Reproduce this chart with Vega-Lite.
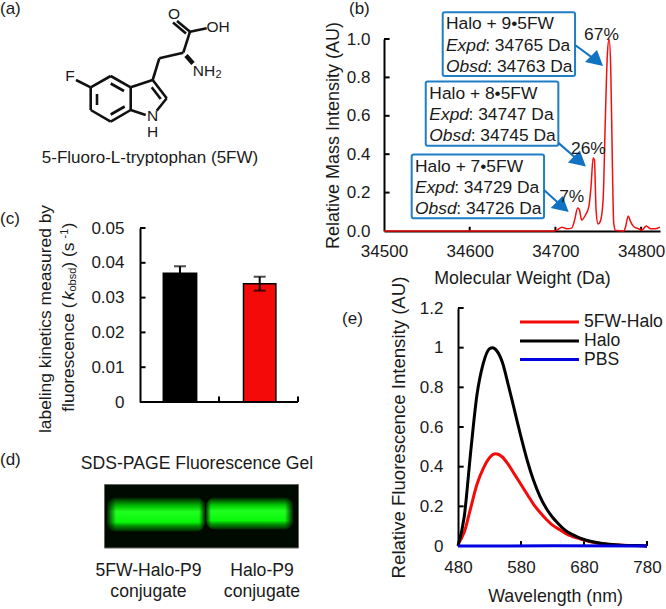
{
"$schema":"https://vega.github.io/schema/vega-lite/v6.json",
"padding":0,"spacing":-60,
"background":"white",
"config":{"view":{"stroke":null},"font":"Liberation Sans","text":{"font":"Liberation Sans","fontSize":17.6,"color":"#1a1a1a"},
"axis":{"grid":false,"domainColor":"black","ticks":false,"tickSize":0,"domainWidth":2,"labelFont":"Liberation Sans","labelFontSize":17,"labelColor":"#1a1a1a","titleFont":"Liberation Sans","titleFontSize":17.8,"titleFontWeight":"normal","titleColor":"#1a1a1a","labelPadding":14,"labelFlush":false,"labelOverlap":false,"tickCount":20}},
"hconcat":[
{"bounds":"flush","spacing":0,"vconcat":[
 {"width":384,"height":228,
  "encoding":{"x":{"field":"x","type":"quantitative","scale":{"domain":[0,384],"nice":false,"zero":false},"axis":null},
              "y":{"field":"y","type":"quantitative","scale":{"domain":[228,0],"nice":false,"zero":false},"axis":null}},
  "layer":[
   {"data":{"values":[
    {"x":90.7,"y":87.3,"x2":110.7,"y2":76},{"x":110.7,"y":76,"x2":130.7,"y2":87.3},{"x":130.7,"y":87.3,"x2":130.7,"y2":110},
    {"x":130.7,"y":110,"x2":110.7,"y2":121.7},{"x":110.7,"y":121.7,"x2":90.7,"y2":110},{"x":90.7,"y":110,"x2":90.7,"y2":87.3},
    {"x":76,"y":80,"x2":90.7,"y2":87.3},
    {"x":110.7,"y":83.5,"x2":124,"y2":91},{"x":97,"y":94,"x2":97,"y2":105},{"x":110.7,"y":114.5,"x2":124.7,"y2":106.5},
    {"x":130.7,"y":87.3,"x2":152.7,"y2":80},{"x":152.7,"y":80,"x2":166.7,"y2":98.3},{"x":166.7,"y":98.3,"x2":156.7,"y2":110.7},
    {"x":145.7,"y":115,"x2":130.7,"y2":110},{"x":151.7,"y":87.3,"x2":160.7,"y2":99},
    {"x":152.7,"y":80,"x2":159.3,"y2":58.3},{"x":159.3,"y":58.3,"x2":183.3,"y2":52.7},{"x":183.3,"y":52.7,"x2":190,"y2":31.7},
    {"x":190,"y":31.7,"x2":206.7,"y2":28.3},{"x":190,"y":31.7,"x2":177,"y2":21},{"x":186,"y":33.5,"x2":173,"y2":22.5}
   ]},"mark":{"type":"rule","strokeWidth":2.6,"color":"#111"},"encoding":{"x2":{"field":"x2"},"y2":{"field":"y2"}}},
   {"data":{"values":[{"x":186,"y":55.5,"x2":193,"y2":63.5}]},"mark":{"type":"rule","strokeWidth":4.5,"color":"#111"},"encoding":{"x2":{"field":"x2"},"y2":{"field":"y2"}}},
   {"data":{"values":[
    {"x":70,"y":76,"t":"F"},{"x":174,"y":14,"t":"O"},{"x":218,"y":26.5,"t":"OH"},{"x":152.5,"y":116,"t":"N"},{"x":152.5,"y":131.5,"t":"H"},{"x":204,"y":71,"t":"NH"}
   ]},"mark":{"type":"text","align":"center","baseline":"middle","fontSize":15.5},"encoding":{"text":{"field":"t"}}},
   {"data":{"values":[{"x":150,"y":158,"t":"5-Fluoro-L-tryptophan (5FW)"}]},"mark":{"type":"text","align":"center","baseline":"middle","fontSize":17},"encoding":{"text":{"field":"t"}}},
   {"data":{"values":[{"x":218.5,"y":75,"t":"2"}]},"mark":{"type":"text","align":"center","baseline":"middle","fontSize":11},"encoding":{"text":{"field":"t"}}},
   {"data":{"values":[{"x":0,"y":9,"t":"(a)"}]},"mark":{"type":"text","align":"left","baseline":"middle","fontSize":17},"encoding":{"text":{"field":"t"}}}
  ]},
 {"width":384,"height":174,
   "data":{"values":[
    {"protein":"Halo","x0":0.295,"x1":0.717,"xc":0.506,"k":0.037,"lo":0.035,"hi":0.039},
    {"protein":"5FW-Halo","x0":1.31,"x1":1.72,"xc":1.515,"k":0.034,"lo":0.032,"hi":0.036}
   ]},
   "layer":[
    {"mark":{"type":"rect","stroke":"black","strokeWidth":1.5},
     "encoding":{"x":{"field":"x0","type":"quantitative","scale":{"domain":[-1.772,3.0886],"nice":false,"zero":false},"axis":{"values":[0.5,1.5],"labelExpr":"datum.value==0.5?'Halo':'5FW-Halo'","domain":false,"title":null,"labelPadding":9}},
      "x2":{"field":"x1"},
      "y":{"field":"k","type":"quantitative","scale":{"domain":[0,0.05],"nice":false},"axis":{"values":[0,0.01,0.02,0.03,0.04,0.05],"format":".2~f","title":null,"labelPadding":16,"offset":-140}},
      "y2":{"datum":0},
      "color":{"field":"protein","type":"nominal","scale":{"domain":["Halo","5FW-Halo","PBS"],"range":["#000000","#f50a0a","#0000e0"]},"legend":null}}},
    {"data":{"values":[{"a":0,"b":2,"z":0},{"a":0,"b":0.07,"z":0.01},{"a":0,"b":0.07,"z":0.02},{"a":0,"b":0.07,"z":0.03},{"a":0,"b":0.07,"z":0.04},{"a":0,"b":0.07,"z":0.05}]},"mark":{"type":"rule","strokeWidth":2,"color":"black"},
     "encoding":{"x":{"field":"a","type":"quantitative","axis":null},"x2":{"field":"b"},"y":{"field":"z","type":"quantitative"}}},
    {"data":{"values":[{"a":1,"z":0,"z2":0.0016},{"a":2,"z":0,"z2":0.0016}]},"mark":{"type":"rule","strokeWidth":2,"color":"black"},
     "encoding":{"x":{"field":"a","type":"quantitative","axis":null},"y":{"field":"z","type":"quantitative"},"y2":{"field":"z2"}}},
    {"mark":{"type":"rule","strokeWidth":2,"color":"black"},
     "encoding":{"x":{"field":"xc","type":"quantitative","axis":null},
      "y":{"field":"lo","type":"quantitative"},"y2":{"field":"hi"}}},
    {"mark":{"type":"tick","orient":"horizontal","size":12,"thickness":2,"color":"black"},
     "encoding":{"x":{"field":"xc","type":"quantitative","axis":null},"y":{"field":"hi","type":"quantitative"}}},
    {"mark":{"type":"tick","orient":"horizontal","size":12,"thickness":2,"color":"black"},
     "encoding":{"x":{"field":"xc","type":"quantitative","axis":null},"y":{"field":"lo","type":"quantitative"}}},
    {"data":{"values":[{"x":-1.772,"y":0.0526,"t":"(c)"}]},"mark":{"type":"text","align":"left","baseline":"middle","fontSize":17},"encoding":{"x":{"field":"x","type":"quantitative","axis":null},"y":{"field":"y","type":"quantitative"},"text":{"field":"t"}}},
    {"data":{"values":[{"x":-1.195,"y":0.02385,"t":"labeling kinetics measured by"}]},"mark":{"type":"text","angle":270,"align":"center","baseline":"middle","fontSize":17.4},"encoding":{"x":{"field":"x","type":"quantitative","axis":null},"y":{"field":"y","type":"quantitative"},"text":{"field":"t"}}},
    {"data":{"values":[{"x":-0.9,"y":-0.00279,"t":"fluorescence  ("},{"x":-0.9,"y":0.03859,"t":")  (s"},{"x":-0.9,"y":0.04983,"t":")"}]},"mark":{"type":"text","angle":270,"align":"left","baseline":"middle","fontSize":17.4},"encoding":{"x":{"field":"x","type":"quantitative","axis":null},"y":{"field":"y","type":"quantitative"},"text":{"field":"t"}}},
    {"data":{"values":[{"x":-0.9,"y":0.02931,"t":"k"}]},"mark":{"type":"text","angle":270,"align":"left","baseline":"middle","fontStyle":"italic","fontSize":17.4},"encoding":{"x":{"field":"x","type":"quantitative","axis":null},"y":{"field":"y","type":"quantitative"},"text":{"field":"t"}}},
    {"data":{"values":[{"x":-0.85,"y":0.03175,"t":"obsd"},{"x":-0.95,"y":0.04701,"t":"-1"}]},"mark":{"type":"text","angle":270,"align":"left","baseline":"middle","fontSize":11},"encoding":{"x":{"field":"x","type":"quantitative","axis":null},"y":{"field":"y","type":"quantitative"},"text":{"field":"t"}}}
   ]},
 {"width":384,"height":207,
  "encoding":{"x":{"field":"x","type":"quantitative","scale":{"domain":[0,384],"nice":false,"zero":false},"axis":null},
              "y":{"field":"y","type":"quantitative","scale":{"domain":[609,402],"nice":false,"zero":false},"axis":null}},
  "layer":[
   {"data":{"values":[{"x":104.5,"x2":298.5,"y":484.5,"y2":548}]},"mark":{"type":"rect","fill":"#010a01","stroke":"#666","strokeWidth":1},"encoding":{"x2":{"field":"x2"},"y2":{"field":"y2"}}},
   {"data":{"values":[{"x":107,"x2":205,"y":497,"y2":532}]},
    "mark":{"type":"rect","cornerRadius":10,"fill":{"gradient":"linear","x1":0,"y1":0,"x2":0,"y2":1,"stops":[{"offset":0,"color":"rgba(0,255,0,0)"},{"offset":0.25,"color":"rgba(0,230,0,0.8)"},{"offset":0.42,"color":"#20ff20"},{"offset":0.72,"color":"#08f808"},{"offset":0.85,"color":"rgba(0,190,0,0.65)"},{"offset":1,"color":"rgba(0,255,0,0)"}]}},"encoding":{"x2":{"field":"x2"},"y2":{"field":"y2"}}},
   {"data":{"values":[{"x":206,"x2":293,"y":497,"y2":530}]},
    "mark":{"type":"rect","cornerRadius":10,"fill":{"gradient":"linear","x1":0,"y1":0,"x2":0,"y2":1,"stops":[{"offset":0,"color":"rgba(0,255,0,0)"},{"offset":0.25,"color":"rgba(0,235,0,0.85)"},{"offset":0.42,"color":"#20ff20"},{"offset":0.72,"color":"#08f808"},{"offset":0.85,"color":"rgba(0,190,0,0.65)"},{"offset":1,"color":"rgba(0,255,0,0)"}]}},"encoding":{"x2":{"field":"x2"},"y2":{"field":"y2"}}},
   {"data":{"values":[{"x":106,"x2":116,"y":495,"y2":534},{"x":205,"x2":211,"y":495,"y2":534}]},
    "mark":{"type":"rect","fill":{"gradient":"linear","x1":0,"y1":0,"x2":1,"y2":0,"stops":[{"offset":0,"color":"rgba(1,10,1,1)"},{"offset":1,"color":"rgba(1,10,1,0)"}]}},"encoding":{"x2":{"field":"x2"},"y2":{"field":"y2"}}},
   {"data":{"values":[{"x":199,"x2":206,"y":495,"y2":534},{"x":285,"x2":294,"y":495,"y2":534}]},
    "mark":{"type":"rect","fill":{"gradient":"linear","x1":0,"y1":0,"x2":1,"y2":0,"stops":[{"offset":0,"color":"rgba(1,10,1,0)"},{"offset":1,"color":"rgba(1,10,1,1)"}]}},"encoding":{"x2":{"field":"x2"},"y2":{"field":"y2"}}},
   {"data":{"values":[
     {"x":197,"y":464,"t":"SDS-PAGE Fluorescence Gel"},{"x":148.5,"y":571,"t":"5FW-Halo-P9"},{"x":148.5,"y":592,"t":"conjugate"},{"x":262,"y":571,"t":"Halo-P9"},{"x":262,"y":592,"t":"conjugate"}
    ]},"mark":{"type":"text","align":"center","baseline":"middle"},"encoding":{"text":{"field":"t"}}},
   {"data":{"values":[{"x":0,"y":460,"t":"(d)"}]},"mark":{"type":"text","align":"left","baseline":"middle","fontSize":17},"encoding":{"text":{"field":"t"}}}
  ]}
]},
{"bounds":"flush","spacing":0,"vconcat":[
 {"width":282,"height":39,"data":{"values":[{"x":349,"y":9,"t":"(b)"}]},
  "mark":{"type":"text","align":"left","baseline":"middle","fontSize":17},
  "encoding":{"x":{"field":"x","type":"quantitative","scale":{"domain":[384,666],"nice":false,"zero":false},"axis":null},
   "y":{"field":"y","type":"quantitative","scale":{"domain":[39,0],"nice":false,"zero":false},"axis":null},"text":{"field":"t"}}},
 {"width":276,"height":192,
  "layer":[
   {"data":{"values":[{"x":34500,"x2":34506.5,"y":0.2},{"x":34500,"x2":34506.5,"y":0.4},{"x":34500,"x2":34506.5,"y":0.6},{"x":34500,"x2":34506.5,"y":0.8},{"x":34500,"x2":34506.5,"y":1}]},
    "mark":{"type":"rule","strokeWidth":2,"color":"black"},
    "encoding":{"x":{"field":"x","type":"quantitative"},"x2":{"field":"x2"},"y":{"field":"y","type":"quantitative"}}},
   {"data":{"values":[{"x":34600,"y":0,"y2":0.022},{"x":34700,"y":0,"y2":0.022},{"x":34800,"y":0,"y2":0.022}]},
    "mark":{"type":"rule","strokeWidth":2,"color":"black"},
    "encoding":{"x":{"field":"x","type":"quantitative"},"y":{"field":"y","type":"quantitative"},"y2":{"field":"y2"}}},
   {"data":{"values":[
    {"mw":34500,"i":0},{"mw":34600,"i":0},{"mw":34698,"i":0},{"mw":34702,"i":0.005},{"mw":34707.6,"i":0.02},{"mw":34713,"i":0.012},{"mw":34719,"i":0.015},{"mw":34722,"i":0.05},{"mw":34726,"i":0.12},{"mw":34728,"i":0.11},{"mw":34730.6,"i":0.057},{"mw":34735,"i":0.083},{"mw":34739,"i":0.127},{"mw":34741.5,"i":0.23},{"mw":34744,"i":0.38},{"mw":34745.5,"i":0.37},{"mw":34747.4,"i":0.11},{"mw":34749.7,"i":0.036},{"mw":34752.4,"i":0.05},{"mw":34755.6,"i":0.16},{"mw":34758.3,"i":0.595},{"mw":34760.6,"i":0.92},{"mw":34762.6,"i":1.0},{"mw":34764.5,"i":0.855},{"mw":34766.5,"i":0.335},{"mw":34768,"i":0.04},{"mw":34770.4,"i":0.002},{"mw":34780,"i":0},{"mw":34781.7,"i":0.02},{"mw":34785,"i":0.078},{"mw":34787.5,"i":0.05},{"mw":34791.5,"i":0.022},{"mw":34797,"i":0.012},{"mw":34801,"i":0.005},{"mw":34806,"i":0.026},{"mw":34811,"i":0.012},{"mw":34817,"i":0.012},{"mw":34822,"i":0.02}
    ]},
    "mark":{"type":"line","color":"#f01010","strokeWidth":1.5,"interpolate":"monotone"},
    "encoding":{"x":{"field":"mw","type":"quantitative","scale":{"domain":[34500,34822],"nice":false,"zero":false},"axis":{"values":[34500,34600,34700,34800],"format":"d","title":"Molecular Weight (Da)","titlePadding":10,"labelPadding":12}},
     "y":{"field":"i","type":"quantitative","scale":{"domain":[0,1],"nice":false},"axis":{"values":[0,0.2,0.4,0.6,0.8,1],"format":".1f","title":"Relative Mass Intensity (AU)","titlePadding":4,"titleFontSize":18}}}},
   {"data":{"values":[{"x":34568.5,"x2":34722.9,"y":1.139,"y2":0.807},{"x":34548.7,"x2":34703.4,"y":0.778,"y2":0.444},{"x":34532.3,"x2":34686.7,"y":0.399,"y2":0.066}]},
    "mark":{"type":"rect","fill":"white","stroke":"#1f7fc4","strokeWidth":2,"cornerRadius":2},
    "encoding":{"x":{"field":"x","type":"quantitative"},"x2":{"field":"x2"},"y":{"field":"y","type":"quantitative"},"y2":{"field":"y2"}}},
   {"data":{"values":[{"x":34722.9,"y":0.969,"x2":34748.5,"y2":0.885},{"x":34703.4,"y":0.459,"x2":34728.5,"y2":0.362},{"x":34686.7,"y":0.213,"x2":34708.5,"y2":0.125}]},
    "mark":{"type":"rule","stroke":"#0f72c2","strokeWidth":2},
    "encoding":{"x":{"field":"x","type":"quantitative"},"x2":{"field":"x2"},"y":{"field":"y","type":"quantitative"},"y2":{"field":"y2"}}},
   {"data":{"values":[{"x":34748.5,"y":0.885},{"x":34728.5,"y":0.362},{"x":34708.5,"y":0.125}]},
    "mark":{"type":"point","shape":"M0.5,0.42L-1,0.08L0,-0.92Z","filled":true,"color":"#0f72c2","size":576,"opacity":1},
    "encoding":{"x":{"field":"x","type":"quantitative"},"y":{"field":"y","type":"quantitative"}}},
   {"data":{"values":[
     {"x":34572.3,"y":1.076,"t":"Halo + 9•5FW"},{"x":34618,"y":0.964,"t":": 34765 Da"},{"x":34620.5,"y":0.856,"t":": 34763 Da"},
     {"x":34552.9,"y":0.712,"t":"Halo + 8•5FW"},{"x":34598.6,"y":0.604,"t":": 34747 Da"},{"x":34601.1,"y":0.495,"t":": 34745 Da"},
     {"x":34536.2,"y":0.335,"t":"Halo + 7•5FW"},{"x":34581.9,"y":0.222,"t":": 34729 Da"},{"x":34584.4,"y":0.113,"t":": 34726 Da"}
    ]},"mark":{"type":"text","align":"left","baseline":"middle","fontSize":17.4},
    "encoding":{"x":{"field":"x","type":"quantitative"},"y":{"field":"y","type":"quantitative"},"text":{"field":"t"}}},
   {"data":{"values":[
     {"x":34572.3,"y":0.964,"t":"Expd"},{"x":34572.3,"y":0.856,"t":"Obsd"},
     {"x":34552.9,"y":0.604,"t":"Expd"},{"x":34552.9,"y":0.495,"t":"Obsd"},
     {"x":34536.2,"y":0.222,"t":"Expd"},{"x":34536.2,"y":0.113,"t":"Obsd"}
    ]},"mark":{"type":"text","align":"left","baseline":"middle","fontSize":17.4,"fontStyle":"italic"},
    "encoding":{"x":{"field":"x","type":"quantitative"},"y":{"field":"y","type":"quantitative"},"text":{"field":"t"}}},
   {"data":{"values":[{"x":34753.7,"y":1.02,"t":"67%"},{"x":34738.5,"y":0.427,"t":"26%"},{"x":34719,"y":0.178,"t":"7%"}]},
    "mark":{"type":"text","align":"center","baseline":"middle","fontSize":17.4},
    "encoding":{"x":{"field":"x","type":"quantitative"},"y":{"field":"y","type":"quantitative"},"text":{"field":"t"}}}
  ]},
 {"width":282,"height":77,"data":{"values":[{"t":""}]},"mark":{"type":"text"},"encoding":{"text":{"field":"t"}}},
 {"width":263,"height":238,
   "layer":[
    {"data":{"values":[{"a":480,"b":780,"z":0},{"a":480,"b":489,"z":0.2},{"a":480,"b":489,"z":0.4},{"a":480,"b":489,"z":0.6},{"a":480,"b":489,"z":0.8},{"a":480,"b":489,"z":1},{"a":480,"b":489,"z":1.2}]},"mark":{"type":"rule","strokeWidth":2,"color":"black"},
     "encoding":{"x":{"field":"a","type":"quantitative"},"x2":{"field":"b"},"y":{"field":"z","type":"quantitative"}}},
    {"data":{"values":[{"a":580,"z":0,"z2":0.025},{"a":680,"z":0,"z2":0.025},{"a":780,"z":0,"z2":0.025}]},"mark":{"type":"rule","strokeWidth":2,"color":"black"},
     "encoding":{"x":{"field":"a","type":"quantitative"},"y":{"field":"z","type":"quantitative"},"y2":{"field":"z2"}}},
    {"data":{"values":[
     {"nm":480,"v":0.01,"s":"5FW-Halo"},{"nm":490,"v":0.07,"s":"5FW-Halo"},{"nm":500,"v":0.19,"s":"5FW-Halo"},{"nm":510,"v":0.31,"s":"5FW-Halo"},{"nm":520,"v":0.39,"s":"5FW-Halo"},{"nm":530,"v":0.445,"s":"5FW-Halo"},{"nm":540,"v":0.465,"s":"5FW-Halo"},{"nm":550,"v":0.45,"s":"5FW-Halo"},{"nm":560,"v":0.41,"s":"5FW-Halo"},{"nm":570,"v":0.36,"s":"5FW-Halo"},{"nm":580,"v":0.31,"s":"5FW-Halo"},{"nm":590,"v":0.26,"s":"5FW-Halo"},{"nm":600,"v":0.21,"s":"5FW-Halo"},{"nm":610,"v":0.17,"s":"5FW-Halo"},{"nm":620,"v":0.135,"s":"5FW-Halo"},{"nm":630,"v":0.105,"s":"5FW-Halo"},{"nm":640,"v":0.085,"s":"5FW-Halo"},{"nm":650,"v":0.065,"s":"5FW-Halo"},{"nm":660,"v":0.05,"s":"5FW-Halo"},{"nm":670,"v":0.04,"s":"5FW-Halo"},{"nm":680,"v":0.03,"s":"5FW-Halo"},{"nm":700,"v":0.015,"s":"5FW-Halo"},{"nm":720,"v":0.007,"s":"5FW-Halo"},{"nm":740,"v":0.004,"s":"5FW-Halo"},{"nm":760,"v":0.002,"s":"5FW-Halo"},{"nm":780,"v":0,"s":"5FW-Halo"},
     {"nm":480,"v":0,"s":"Halo"},{"nm":490,"v":0.15,"s":"Halo"},{"nm":500,"v":0.47,"s":"Halo"},{"nm":510,"v":0.76,"s":"Halo"},{"nm":520,"v":0.92,"s":"Halo"},{"nm":530,"v":0.995,"s":"Halo"},{"nm":535,"v":1.0,"s":"Halo"},{"nm":540,"v":0.99,"s":"Halo"},{"nm":550,"v":0.93,"s":"Halo"},{"nm":560,"v":0.81,"s":"Halo"},{"nm":570,"v":0.68,"s":"Halo"},{"nm":580,"v":0.55,"s":"Halo"},{"nm":590,"v":0.43,"s":"Halo"},{"nm":600,"v":0.33,"s":"Halo"},{"nm":610,"v":0.25,"s":"Halo"},{"nm":620,"v":0.19,"s":"Halo"},{"nm":630,"v":0.145,"s":"Halo"},{"nm":640,"v":0.11,"s":"Halo"},{"nm":650,"v":0.08,"s":"Halo"},{"nm":660,"v":0.06,"s":"Halo"},{"nm":670,"v":0.045,"s":"Halo"},{"nm":680,"v":0.033,"s":"Halo"},{"nm":700,"v":0.018,"s":"Halo"},{"nm":720,"v":0.009,"s":"Halo"},{"nm":740,"v":0.004,"s":"Halo"},{"nm":760,"v":0.002,"s":"Halo"},{"nm":780,"v":0,"s":"Halo"},
     {"nm":480,"v":0,"s":"PBS"},{"nm":630,"v":0.001,"s":"PBS"},{"nm":780,"v":0,"s":"PBS"}
     ]},
     "mark":{"type":"line","strokeWidth":3,"interpolate":"monotone"},
     "encoding":{"x":{"field":"nm","type":"quantitative","scale":{"domain":[362.54,780],"nice":false,"zero":false},"axis":{"values":[480,580,680,780],"title":"Wavelength (nm)","domain":false,"titleX":171,"titleY":50,"titleBaseline":"middle","labelPadding":13}},
      "y":{"field":"v","type":"quantitative","scale":{"domain":[0,1.2],"nice":false},"axis":{"values":[0,0.2,0.4,0.6,0.8,1,1.2],"format":"~g","title":"Relative Fluorescence Intensity (AU)","titlePadding":11,"labelPadding":15,"offset":-74,"titleFontSize":18.6}},
      "color":{"field":"s","type":"nominal","scale":{"domain":["Halo","5FW-Halo","PBS"],"range":["#000000","#f50a0a","#0000e0"]},"legend":null}}},
    {"data":{"values":[{"nm":578.4,"nm2":672,"v":1.13,"s":"5FW-Halo"},{"nm":578.4,"nm2":672,"v":1.034,"s":"Halo"},{"nm":578.4,"nm2":672,"v":0.94,"s":"PBS"}]},
     "mark":{"type":"rule","strokeWidth":3},
     "encoding":{"x":{"field":"nm","type":"quantitative"},"x2":{"field":"nm2"},"y":{"field":"v","type":"quantitative"},"color":{"field":"s","type":"nominal","legend":null}}},
    {"data":{"values":[{"nm":680,"v":1.13,"s":"5FW-Halo"},{"nm":680,"v":1.034,"s":"Halo"},{"nm":680,"v":0.94,"s":"PBS"}]},
     "mark":{"type":"text","align":"left","baseline":"middle"},
     "encoding":{"x":{"field":"nm","type":"quantitative"},"y":{"field":"v","type":"quantitative"},"text":{"field":"s"}}},
    {"data":{"values":[{"nm":295.9,"v":1.1445,"s":"(e)"}]},
     "mark":{"type":"text","align":"left","baseline":"middle","fontSize":17},
     "encoding":{"x":{"field":"nm","type":"quantitative"},"y":{"field":"v","type":"quantitative"},"text":{"field":"s"}}}
   ]}
]}
]
}
